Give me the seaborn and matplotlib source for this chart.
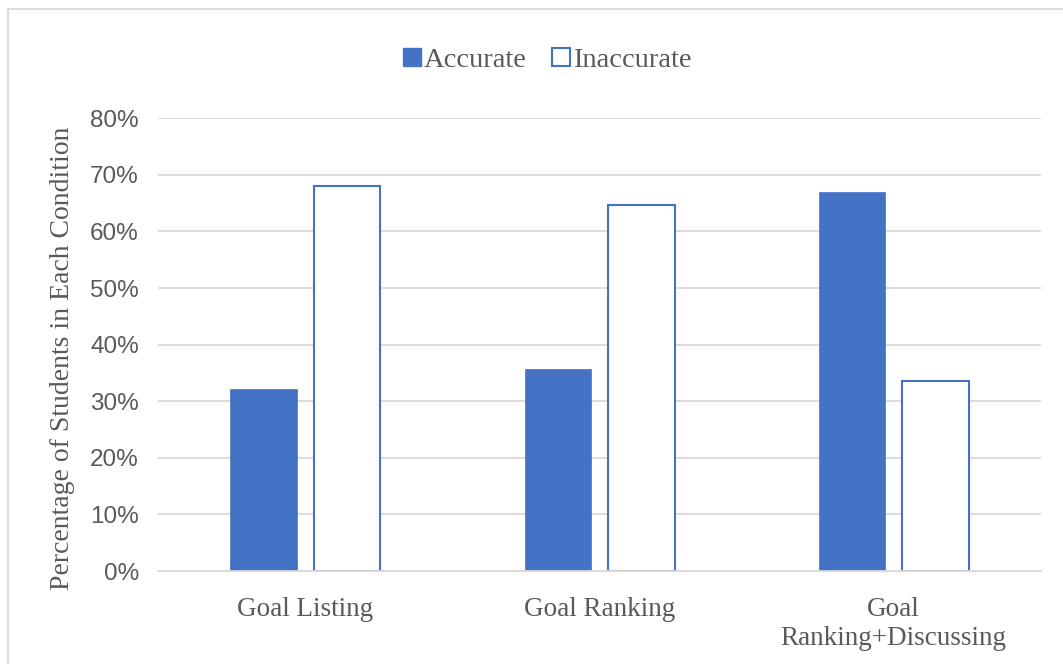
import numpy as np
import matplotlib.pyplot as plt
import pandas as pd
import seaborn as sns
from matplotlib.patches import Patch
from matplotlib.lines import Line2D

# Data
conditions = ['Goal Listing', 'Goal Ranking', 'Goal\nRanking+Discussing']
accurate = [32.1, 35.7, 66.9]
inaccurate = [68.1, 64.6, 33.5]
groups = ['Accurate', 'Inaccurate']

df = pd.DataFrame({
    'Condition': conditions * 2,
    'Group': [groups[0]] * 3 + [groups[1]] * 3,
    'Percent': accurate + inaccurate,
})

blue = '#4472C4'
grid_col = '#D9D9D9'
text_col = '#595959'

sns.set_style('white')
plt.rcParams['font.family'] = ['Liberation Serif', 'DejaVu Serif']

fig = plt.figure(figsize=(10.63, 6.64), dpi=100)
ax = fig.add_axes([0.149, 0.140, 0.830, 0.682])

sns.barplot(data=df, x='Condition', y='Percent', hue='Group',
            palette=[blue, blue], saturation=1, width=0.57, gap=0.21,
            legend=False, ax=ax)

# Inaccurate bars are hollow with a blue outline
for bar in ax.containers[1]:
    bar.set_facecolor('white')
    bar.set_edgecolor(blue)
    bar.set_linewidth(1.5)
for bar in ax.containers[0]:
    bar.set_edgecolor(blue)
    bar.set_linewidth(0.5)

ax.set_ylim(0, 80)
ax.set_yticks(np.arange(0, 81, 10))
ax.set_yticklabels(['%d%%' % v for v in range(0, 81, 10)],
                   family=['Liberation Sans', 'DejaVu Sans'], fontsize=17.5, color=text_col)
ax.tick_params(axis='x', labelsize=19.5, colors=text_col, length=0, pad=19)
ax.tick_params(axis='y', length=0, pad=14)
for lbl in ax.get_xticklabels():
    lbl.set_linespacing(1.17)
ax.set_xlabel('')
ax.set_ylabel('Percentage of Students in Each Condition', fontsize=20, color=text_col)
ax.yaxis.set_label_coords(-0.094, 0.47)

ax.yaxis.grid(True, color=grid_col, linewidth=1.3)
ax.set_axisbelow(True)
for s in ['top', 'right', 'left']:
    ax.spines[s].set_visible(False)
ax.spines['bottom'].set_color(grid_col)
ax.spines['bottom'].set_linewidth(1.3)

handles = [Patch(facecolor=blue, edgecolor=blue),
           Patch(facecolor='white', edgecolor=blue, linewidth=1.5)]
fig.legend(handles, groups, loc='center', bbox_to_anchor=(0.515, 0.909), ncol=2,
           frameon=False, fontsize=20.5, handlelength=0.6, handleheight=0.6,
           handletextpad=0.12, columnspacing=0.9, labelcolor=text_col)

# light chart-area border (top and left edges visible)
fig.add_artist(Line2D([0.0075, 1.0], [0.986, 0.986], color=grid_col, lw=1.3,
                      transform=fig.transFigure))
fig.add_artist(Line2D([0.0075, 0.0075], [0.0, 0.986], color=grid_col, lw=1.3,
                      transform=fig.transFigure))

plt.savefig('out.png', dpi=100)
